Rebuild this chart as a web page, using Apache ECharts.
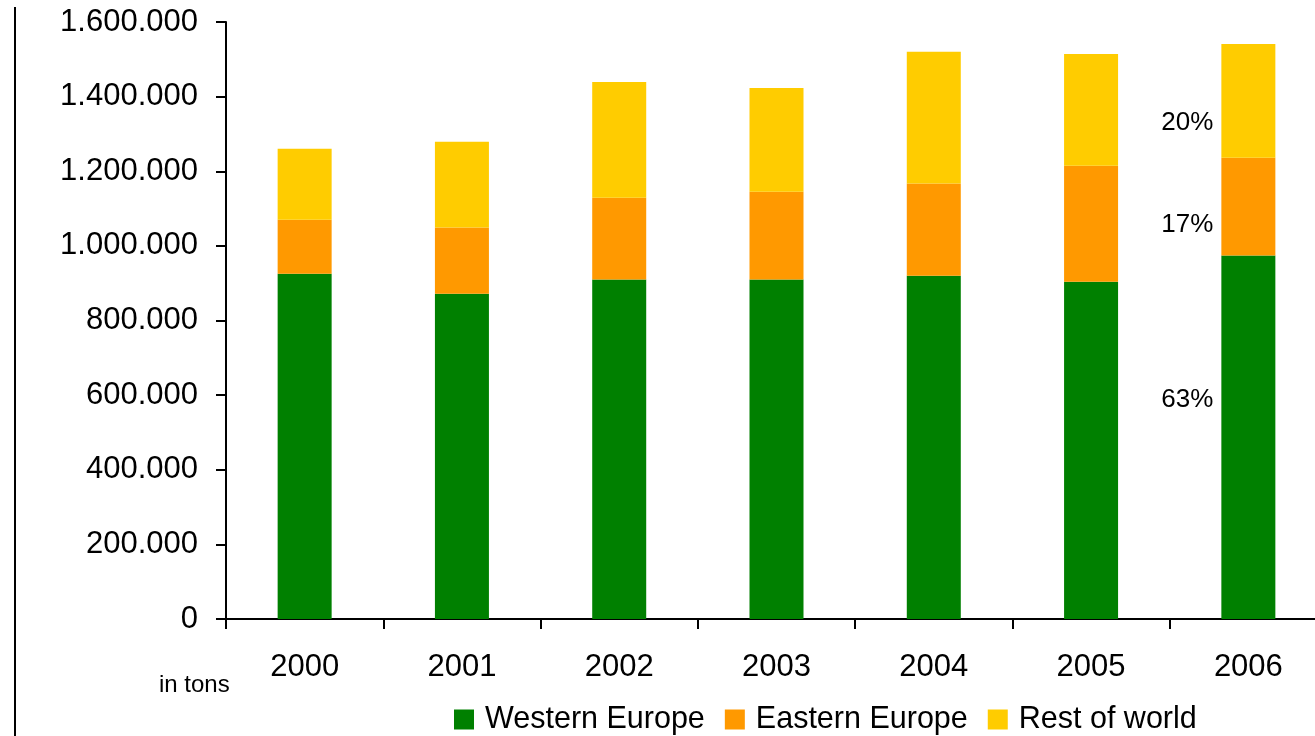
<!DOCTYPE html>
<html>
<head>
<meta charset="utf-8">
<title>Production by region, in tons</title>
<script src="https://cdn.jsdelivr.net/npm/echarts@6/dist/echarts.min.js"></script>
<style>
  html, body { margin: 0; padding: 0; background: #ffffff; }
  #chart { width: 1315px; height: 736px; }
</style>
</head>
<body>
<div id="chart"></div>
<script>
// Years on the category axis
const years = ['2000', '2001', '2002', '2003', '2004', '2005', '2006'];

// Tonnage per region and year
const westernEurope = [925000, 872000, 910000, 910000, 920000, 904000, 974000];
const easternEurope = [145000, 177000, 219000, 235000, 247000, 311000, 262000];
const restOfWorld   = [190000, 230000, 310000, 278000, 353000, 299000, 305000];

const seriesNames = ['Western Europe', 'Eastern Europe', 'Rest of world'];
const unitLabel = 'in tons';

const FONT = '"Liberation Sans", Arial, Helvetica, sans-serif';
const colors = ['#008000', '#FF9900', '#FFCC00'];

// Share labels are shown for the last year only
const lastIdx = years.length - 1;
const lastTotal = westernEurope[lastIdx] + easternEurope[lastIdx] + restOfWorld[lastIdx];

function shareFormatter(p) {
  if (p.dataIndex !== lastIdx) return '';
  return Math.round(p.value / lastTotal * 100) + '%';
}

function thousands(v) {
  return String(v).replace(/\B(?=(\d{3})+(?!\d))/g, '.');
}

function shareLabel(dy) {
  return {
    show: true,
    position: 'left',
    distance: 8,
    offset: [0, dy],
    formatter: shareFormatter,
    color: '#000',
    fontFamily: FONT,
    fontSize: 26
  };
}

const chart = echarts.init(document.getElementById('chart'), null, { renderer: 'canvas' });

chart.setOption({
  backgroundColor: '#ffffff',
  animation: false,
  color: colors,
  // the plot runs a little past the right edge of the canvas
  grid: { left: 226, width: 1101, top: 22, bottom: 117, containLabel: false, outerBoundsMode: 'none' },
  legend: {
    data: seriesNames,
    left: 454,
    top: 704,
    padding: 0,
    itemWidth: 20,
    itemHeight: 20,
    itemGap: 20,
    icon: 'rect',
    textStyle: { color: '#000', fontFamily: FONT, fontSize: 30.5, padding: [0, 0, 0, 6] }
  },
  xAxis: {
    type: 'category',
    data: years,
    boundaryGap: true,
    axisLine: { show: true, lineStyle: { color: '#000', width: 2 } },
    axisTick: { show: true, inside: false, length: 10, lineStyle: { color: '#000', width: 2 } },
    axisLabel: { color: '#000', fontFamily: FONT, fontSize: 31, margin: 33 },
    splitLine: { show: false }
  },
  yAxis: {
    type: 'value',
    min: 0,
    max: 1600000,
    interval: 200000,
    axisLine: { show: true, lineStyle: { color: '#000', width: 2 } },
    axisTick: { show: true, inside: false, length: 10, lineStyle: { color: '#000', width: 2 } },
    axisLabel: { color: '#000', fontFamily: FONT, fontSize: 31, margin: 28, formatter: thousands },
    splitLine: { show: false }
  },
  graphic: [
    {
      type: 'line',
      shape: { x1: 15, y1: 7, x2: 15, y2: 736 },
      style: { stroke: '#000', lineWidth: 2 }
    },
    {
      type: 'text',
      left: 159,
      top: 673,
      style: { text: unitLabel, fill: '#000', font: '24px ' + FONT }
    }
  ],
  series: [
    {
      name: seriesNames[0],
      type: 'bar',
      stack: 'total',
      barWidth: 54,
      data: westernEurope,
      label: shareLabel(-37)
    },
    {
      name: seriesNames[1],
      type: 'bar',
      stack: 'total',
      barWidth: 54,
      data: easternEurope,
      label: shareLabel(18)
    },
    {
      name: seriesNames[2],
      type: 'bar',
      stack: 'total',
      barWidth: 54,
      data: restOfWorld,
      label: shareLabel(22)
    }
  ]
});
</script>
</body>
</html>
